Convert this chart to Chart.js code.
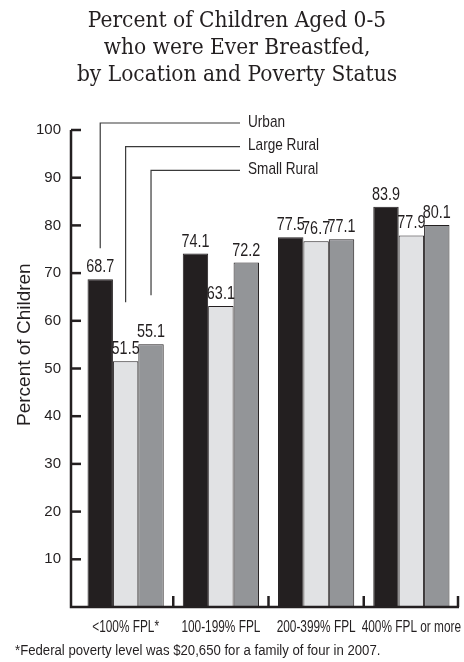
<!DOCTYPE html>
<html><head><meta charset="utf-8">
<script src="https://cdn.jsdelivr.net/npm/chart.js@4.4.1/dist/chart.umd.min.js"></script>
<style>html,body{margin:0;padding:0;background:#fff;}canvas{display:block;}</style>
</head><body>
<canvas id="c" width="464" height="662"></canvas>
<script>
// ---- data ----
const categories = ['<100% FPL*', '100-199% FPL', '200-399% FPL', '400% FPL or more'];
const seriesNames = ['Urban', 'Large Rural', 'Small Rural'];
const urban = [68.7, 74.1, 77.5, 83.9];
const largeRural = [51.5, 63.1, 76.7, 77.9];
const smallRural = [55.1, 72.2, 77.1, 80.1];
const yTicks = [10, 20, 30, 40, 50, 60, 70, 80, 90, 100];
const titleLines = ['Percent of Children Aged 0-5', 'who were Ever Breastfed,', 'by Location and Poverty Status'];
const yTitle = 'Percent of Children';
const footnote = '*Federal poverty level was $20,650 for a family of four in 2007.';

// ---- styles ----
const INK = '#231f20';
const SANS = "'Liberation Sans', Arial, sans-serif";
const SERIF = "'DejaVu Serif Condensed', 'Liberation Serif', serif";
const fills = ['#231f20', '#e1e2e4', '#939598'];

// draw text horizontally condensed by factor k (emulates a condensed face)
function condensed(ctx, text, x, y, k) {
  const w = ctx.measureText(text).width;
  ctx.fillText(text, x, y, w * k);
}

const decor = {
  id: 'decor',
  afterDatasetsDraw(chart) {
    const { ctx, chartArea: a, scales: { x, y } } = chart;
    const axisX = a.left - 7;
    const bottom = y.getPixelForValue(0);
    ctx.save();
    ctx.strokeStyle = INK; ctx.lineWidth = 2.5;
    ctx.beginPath();
    ctx.moveTo(axisX, y.getPixelForValue(100));
    ctx.lineTo(axisX, bottom);
    ctx.lineTo(a.right, bottom);
    ctx.stroke();
    yTicks.forEach(v => {
      const py = y.getPixelForValue(v);
      ctx.beginPath(); ctx.moveTo(axisX, py); ctx.lineTo(axisX + 10, py); ctx.stroke();
    });
    const half = (x.getPixelForValue(1) - x.getPixelForValue(0)) / 2;
    categories.forEach((c, i) => {
      const px = Math.min(x.getPixelForValue(i) + half, a.right - 1);
      ctx.beginPath(); ctx.moveTo(px, bottom); ctx.lineTo(px, bottom - 11); ctx.stroke();
    });
    ctx.fillStyle = INK;
    // category labels
    ctx.font = '16px ' + SANS; ctx.textAlign = 'center'; ctx.textBaseline = 'alphabetic';
    categories.forEach((c, i) => condensed(ctx, c, x.getPixelForValue(i), bottom + 24.5, 0.74));
    // value labels
    ctx.font = '18px ' + SANS;
    chart.data.datasets.forEach((ds, di) => {
      chart.getDatasetMeta(di).data.forEach((bar, i) => {
        condensed(ctx, ds.data[i].toFixed(1), bar.x, bar.y - 7, 0.8);
      });
    });
    // leader-line legend
    const legendY0 = a.top - 7, legendStep = 23.7, lineEndX = 240, textX = 248;
    const leaderGap = [31, 59, 49];
    ctx.strokeStyle = '#3a3a3a'; ctx.lineWidth = 1.2;
    ctx.font = '17px ' + SANS; ctx.textAlign = 'left';
    seriesNames.forEach((n, di) => {
      const bar = chart.getDatasetMeta(di).data[0];
      const ly = legendY0 + di * legendStep;
      ctx.beginPath();
      ctx.moveTo(bar.x, bar.y - leaderGap[di]);
      ctx.lineTo(bar.x, ly);
      ctx.lineTo(lineEndX, ly);
      ctx.stroke();
      condensed(ctx, n, textX, ly + 3.5, 0.8);
    });
    // footnote
    ctx.font = '15.5px ' + SANS;
    condensed(ctx, footnote, y.left, chart.height - 7.5, 0.85);
    // y-axis title
    ctx.translate(a.left - 53, y.getPixelForValue(55));
    ctx.rotate(-Math.PI / 2);
    ctx.font = '19px ' + SANS; ctx.textAlign = 'center'; ctx.textBaseline = 'middle';
    ctx.fillText(yTitle, 0, 0);
    ctx.restore();
  }
};

new Chart(document.getElementById('c'), {
  type: 'bar',
  data: {
    labels: categories,
    datasets: [
      { label: seriesNames[0], data: urban, backgroundColor: fills[0] },
      { label: seriesNames[1], data: largeRural, backgroundColor: fills[1] },
      { label: seriesNames[2], data: smallRural, backgroundColor: fills[2] }
    ].map(d => Object.assign(d, { borderColor: INK, borderWidth: 1, barPercentage: 1, categoryPercentage: 0.8 }))
  },
  options: {
    responsive: false,
    animation: false,
    devicePixelRatio: 1,
    layout: { padding: { left: 15, right: 5, top: 0, bottom: 27 } },
    plugins: {
      legend: { display: false },
      tooltip: { enabled: false },
      title: {
        display: true, text: titleLines, color: INK,
        font: { family: SERIF, size: 22.5, weight: 'normal', lineHeight: 1.2 },
        padding: { top: 8, bottom: 41 }
      }
    },
    scales: {
      x: {
        grid: { display: false, drawTicks: false }, border: { display: false },
        ticks: { display: false },
        afterFit(s) { s.height = 28; }
      },
      y: {
        min: 0, max: 100,
        grid: { display: false, drawTicks: false }, border: { display: false },
        ticks: { stepSize: 10, color: INK, font: { family: SANS, size: 15 }, padding: 17,
                 callback: v => (v === 0 ? '' : v) },
        afterFit(s) { s.width = 63; }
      }
    }
  },
  plugins: [decor]
});
</script>
</body></html>
